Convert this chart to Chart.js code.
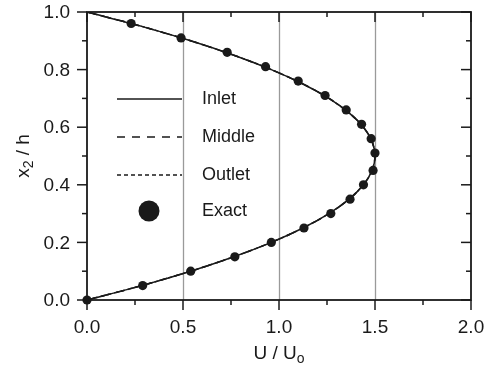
<!DOCTYPE html>
<html>
<head>
<meta charset="utf-8">
<script src="https://cdn.jsdelivr.net/npm/chart.js@4"></script>
<style>
  html, body { margin: 0; padding: 0; background: #fff; }
  canvas { display: block; }
</style>
</head>
<body>
<canvas id="chart" width="484" height="366"></canvas>
<script>
// Velocity profile across the channel: U/Uo against x2/h.
// ---- data ----
const curveY = [0, 0.05, 0.10, 0.15, 0.20, 0.25, 0.30, 0.35, 0.40, 0.45, 0.50,
  0.55, 0.60, 0.65, 0.70, 0.75, 0.80, 0.85, 0.90, 0.95, 1.00];
const inletU = [0, 0.285, 0.54, 0.765, 0.96, 1.125, 1.26, 1.365, 1.44, 1.485, 1.50,
  1.485, 1.44, 1.365, 1.26, 1.125, 0.96, 0.765, 0.54, 0.285, 0];
const middleU = [0, 0.285, 0.54, 0.765, 0.96, 1.125, 1.26, 1.365, 1.44, 1.485, 1.50,
  1.485, 1.44, 1.365, 1.26, 1.125, 0.96, 0.765, 0.54, 0.285, 0];
const outletU = [0, 0.285, 0.54, 0.765, 0.96, 1.125, 1.26, 1.365, 1.44, 1.485, 1.50,
  1.485, 1.44, 1.365, 1.26, 1.125, 0.96, 0.765, 0.54, 0.285, 0];
const exactY = [0, 0.05, 0.10, 0.15, 0.20, 0.25, 0.30, 0.35, 0.40, 0.45,
  0.51, 0.56, 0.61, 0.66, 0.71, 0.76, 0.81, 0.86, 0.91, 0.96];
const exactU = [0, 0.29, 0.54, 0.77, 0.96, 1.13, 1.27, 1.37, 1.44, 1.49,
  1.50, 1.48, 1.43, 1.35, 1.24, 1.10, 0.93, 0.73, 0.49, 0.23];

const xTicks = [0, 0.5, 1.0, 1.5, 2.0];
const xTickLabels = ["0.0", "0.5", "1.0", "1.5", "2.0"];
const xMinor = [0.25, 0.75, 1.25, 1.75];
const xGrid = [0.5, 1.0, 1.5];
const yTicks = [0, 0.2, 0.4, 0.6, 0.8, 1.0];
const yTickLabels = ["0.0", "0.2", "0.4", "0.6", "0.8", "1.0"];
const yMinor = [0.1, 0.3, 0.5, 0.7, 0.9];
const legendLabels = ["Inlet", "Middle", "Outlet", "Exact"];

const INK = "#1a1a1a";
const FONT = '"Liberation Sans", Arial, Helvetica, sans-serif';
const pts = (xs, ys) => xs.map((x, i) => ({ x, y: ys[i] }));

// ---- frame, ticks, labels, legend (drawn against the chart's own scales) ----
const frame = {
  id: "frame",
  beforeDatasetsDraw(chart) {
    const { ctx, chartArea: a, scales: { x } } = chart;
    ctx.save();
    ctx.strokeStyle = "#9a9a9a";
    ctx.lineWidth = 1.3;
    xGrid.forEach((v) => {
      const px = Math.round(x.getPixelForValue(v)) + 0.5;
      ctx.beginPath(); ctx.moveTo(px, a.top); ctx.lineTo(px, a.bottom); ctx.stroke();
    });
    ctx.restore();
  },
  afterDraw(chart) {
    const { ctx, chartArea: a, scales: { x, y } } = chart;
    ctx.save();
    ctx.strokeStyle = INK;
    ctx.lineWidth = 1.8;
    ctx.strokeRect(a.left, a.top, a.right - a.left, a.bottom - a.top);

    ctx.lineWidth = 1.5;
    const tick = (x1, y1, x2, y2) => { ctx.beginPath(); ctx.moveTo(x1, y1); ctx.lineTo(x2, y2); ctx.stroke(); };
    // x axis: outward at bottom, inward at top
    xTicks.forEach((v) => { const p = x.getPixelForValue(v); tick(p, a.bottom, p, a.bottom + 10); tick(p, a.top, p, a.top + 10); });
    xMinor.forEach((v) => { const p = x.getPixelForValue(v); tick(p, a.bottom, p, a.bottom + 5); tick(p, a.top, p, a.top + 5); });
    // y axis: outward at left, inward at right
    yTicks.forEach((v) => { const p = y.getPixelForValue(v); tick(a.left - 10, p, a.left, p); tick(a.right - 10, p, a.right, p); });
    yMinor.forEach((v) => { const p = y.getPixelForValue(v); tick(a.left - 5, p, a.left, p); tick(a.right - 5, p, a.right, p); });

    // tick labels
    ctx.fillStyle = INK;
    ctx.font = "19px " + FONT;
    ctx.textAlign = "center"; ctx.textBaseline = "middle";
    xTicks.forEach((v, i) => ctx.fillText(xTickLabels[i], x.getPixelForValue(v), a.bottom + 28));
    ctx.textAlign = "right";
    yTicks.forEach((v, i) => ctx.fillText(yTickLabels[i], a.left - 17, y.getPixelForValue(v) + 1));

    // axis titles with subscripts
    const sub = (parts, cx, cy) => {
      let w = 0;
      parts.forEach((p) => { ctx.font = (p.s ? "14px " : "19px ") + FONT; w += ctx.measureText(p.t).width; });
      let cur = cx - w / 2;
      ctx.textAlign = "left"; ctx.textBaseline = "alphabetic";
      parts.forEach((p) => {
        ctx.font = (p.s ? "14px " : "19px ") + FONT;
        ctx.fillText(p.t, cur, cy + (p.s ? 4 : 0));
        cur += ctx.measureText(p.t).width;
      });
    };
    sub([{ t: "U / U" }, { t: "o", s: true }], (a.left + a.right) / 2, a.bottom + 59);
    ctx.save();
    ctx.translate(29, (a.top + a.bottom) / 2);
    ctx.rotate(-Math.PI / 2);
    sub([{ t: "x" }, { t: "2", s: true }, { t: " / h" }], 0, 0);
    ctx.restore();

    // legend inside the plot
    const lx0 = 117, lx1 = 182, tx = 202;
    const rows = [99, 137, 175, 211];
    const dashes = [[], [8, 7], [4, 3]];
    ctx.strokeStyle = INK; ctx.lineWidth = 1.4;
    dashes.forEach((d, i) => { ctx.setLineDash(d); tick(lx0, rows[i], lx1, rows[i]); });
    ctx.setLineDash([]);
    ctx.beginPath(); ctx.arc(149, rows[3], 10.5, 0, Math.PI * 2); ctx.fill();
    ctx.font = "18px " + FONT; ctx.textAlign = "left"; ctx.textBaseline = "middle";
    legendLabels.forEach((t, i) => ctx.fillText(t, tx, rows[i]));
    ctx.restore();
  },
};

const lineStyle = { borderColor: INK, borderWidth: 1.5, pointRadius: 0, showLine: true, tension: 0.3, fill: false };

new Chart(document.getElementById("chart"), {
  type: "scatter",
  data: {
    datasets: [
      { label: legendLabels[0], data: pts(inletU, curveY), ...lineStyle },
      { label: legendLabels[1], data: pts(middleU, curveY), ...lineStyle, borderDash: [8, 7] },
      { label: legendLabels[2], data: pts(outletU, curveY), ...lineStyle, borderDash: [4, 3] },
      { label: legendLabels[3], data: pts(exactU, exactY), showLine: false, pointRadius: 4.6, clip: false,
        pointBackgroundColor: INK, pointBorderColor: INK, pointBorderWidth: 0 },
    ],
  },
  options: {
    responsive: false,
    animation: false,
    layout: { padding: { left: 87, right: 13, top: 12, bottom: 66 } },
    plugins: { legend: { display: false }, tooltip: { enabled: false } },
    scales: {
      x: { type: "linear", min: 0, max: 2, display: false },
      y: { type: "linear", min: 0, max: 1, display: false },
    },
  },
  plugins: [frame],
});
</script>
</body>
</html>
